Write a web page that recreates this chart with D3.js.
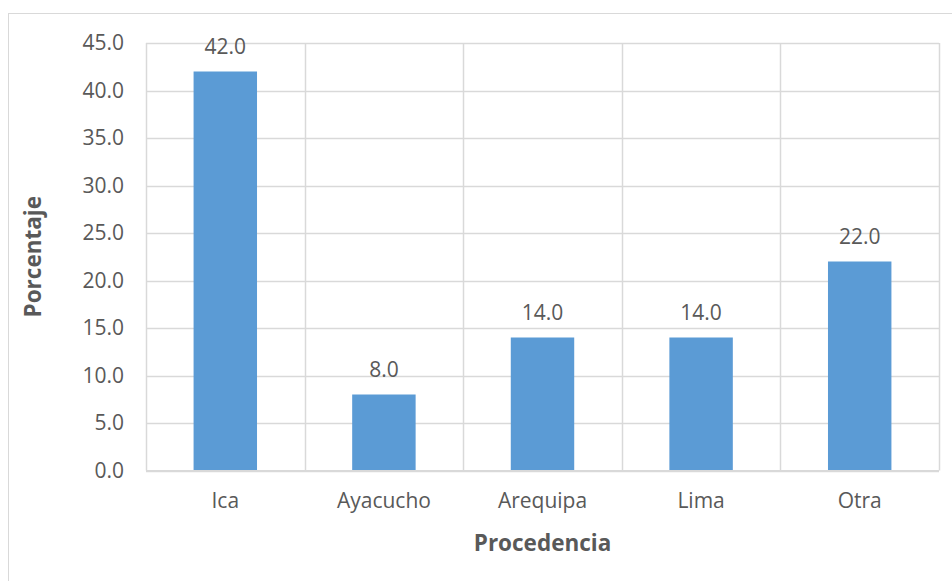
<!DOCTYPE html>
<html lang="es">
<head>
  <meta charset="UTF-8">
  <title>Procedencia</title>
  <script src="https://d3js.org/d3.v7.min.js"></script>
  <style>
    body { margin: 0; background: #fff; }
    text { font-family: "Open Sans", sans-serif; fill: #595959; }
  </style>
</head>
<body>
<div id="chart"></div>
<script>
// data
var categories = ["Ica", "Ayacucho", "Arequipa", "Lima", "Otra"];
var values = [42.0, 8.0, 14.0, 14.0, 22.0];
var yTicks = [0, 5, 10, 15, 20, 25, 30, 35, 40, 45];

var W = 952, H = 581;
var margin = {top: 43, right: 13, bottom: 110.5, left: 146};
var width = W - margin.left - margin.right,
    height = H - margin.top - margin.bottom;

var svg = d3.select("#chart").append("svg")
    .attr("width", W)
    .attr("height", H);

// outer chart frame (runs off the right/bottom edge)
svg.append("rect")
    .attr("x", 8.5).attr("y", 13.5)
    .attr("width", 960).attr("height", 600)
    .attr("fill", "none").attr("stroke", "#d9d9d9");

var g = svg.append("g")
    .attr("transform", "translate(" + margin.left + "," + margin.top + ")");

var x = d3.scaleBand().domain(categories).range([0, width]).paddingInner(0).paddingOuter(0);
var y = d3.scaleLinear().domain([0, 45]).range([height, 0]);

/* ====== grid ====== */
g.selectAll(".hgrid")
  .data(yTicks)
  .enter().append("line")
    .attr("x1", 0).attr("x2", width)
    .attr("y1", function(d) { return Math.round(y(d)) + 0.5; })
    .attr("y2", function(d) { return Math.round(y(d)) + 0.5; })
    .attr("stroke", "#d9d9d9").attr("stroke-width", 1.5);

var bounds = categories.map(function(c) { return x(c); }).concat([width]);
g.selectAll(".vgrid")
  .data(bounds)
  .enter().append("line")
    .attr("x1", function(d) { return Math.round(d) + 0.5; })
    .attr("x2", function(d) { return Math.round(d) + 0.5; })
    .attr("y1", 0).attr("y2", height)
    .attr("stroke", "#d9d9d9").attr("stroke-width", 1.5);

/* ====== y axis labels ====== */
var yAxis = d3.axisLeft(y).tickValues(yTicks).tickSize(0).tickPadding(22)
    .tickFormat(d3.format(".1f"));
g.append("g").call(yAxis)
  .call(function(s) { s.select(".domain").remove(); })
  .selectAll("text")
    .style("font-size", "21px")
    .attr("fill", "#595959");

/* ====== x axis labels ====== */
var xAxis = d3.axisBottom(x).tickSize(0).tickPadding(23);
g.append("g").attr("transform", "translate(0," + height + ")").call(xAxis)
  .call(function(s) { s.select(".domain").remove(); })
  .selectAll("text")
    .style("font-size", "21px")
    .attr("fill", "#595959");

/* ====== bars ====== */
var barW = x.bandwidth() * 0.4;
g.selectAll(".bar")
  .data(values)
  .enter().append("rect")
    .attr("class", "bar")
    .attr("x", function(d, i) { return x(categories[i]) + (x.bandwidth() - barW) / 2; })
    .attr("y", function(d) { return y(d); })
    .attr("width", barW)
    .attr("height", function(d) { return height - y(d); })
    .attr("fill", "#5b9bd5");

// baseline
g.append("line")
    .attr("x1", 0).attr("x2", width)
    .attr("y1", height + 0.5).attr("y2", height + 0.5)
    .attr("stroke", "#d9d9d9").attr("stroke-width", 2);

/* ====== value labels ====== */
g.selectAll(".val")
  .data(values)
  .enter().append("text")
    .attr("x", function(d, i) { return x(categories[i]) + x.bandwidth() / 2; })
    .attr("y", function(d) { return y(d) - 18; })
    .attr("text-anchor", "middle")
    .style("font-size", "21px")
    .text(function(d) { return d3.format(".1f")(d); });

/* ====== titles ====== */
svg.append("text")
    .attr("transform", "translate(41," + (margin.top + height / 2) + ") rotate(-90)")
    .attr("text-anchor", "middle")
    .style("font-size", "22.5px").style("font-weight", "bold")
    .text("Porcentaje");

svg.append("text")
    .attr("x", margin.left + width / 2)
    .attr("y", 551)
    .attr("text-anchor", "middle")
    .style("font-size", "22.5px").style("font-weight", "bold")
    .text("Procedencia");
</script>
</body>
</html>
